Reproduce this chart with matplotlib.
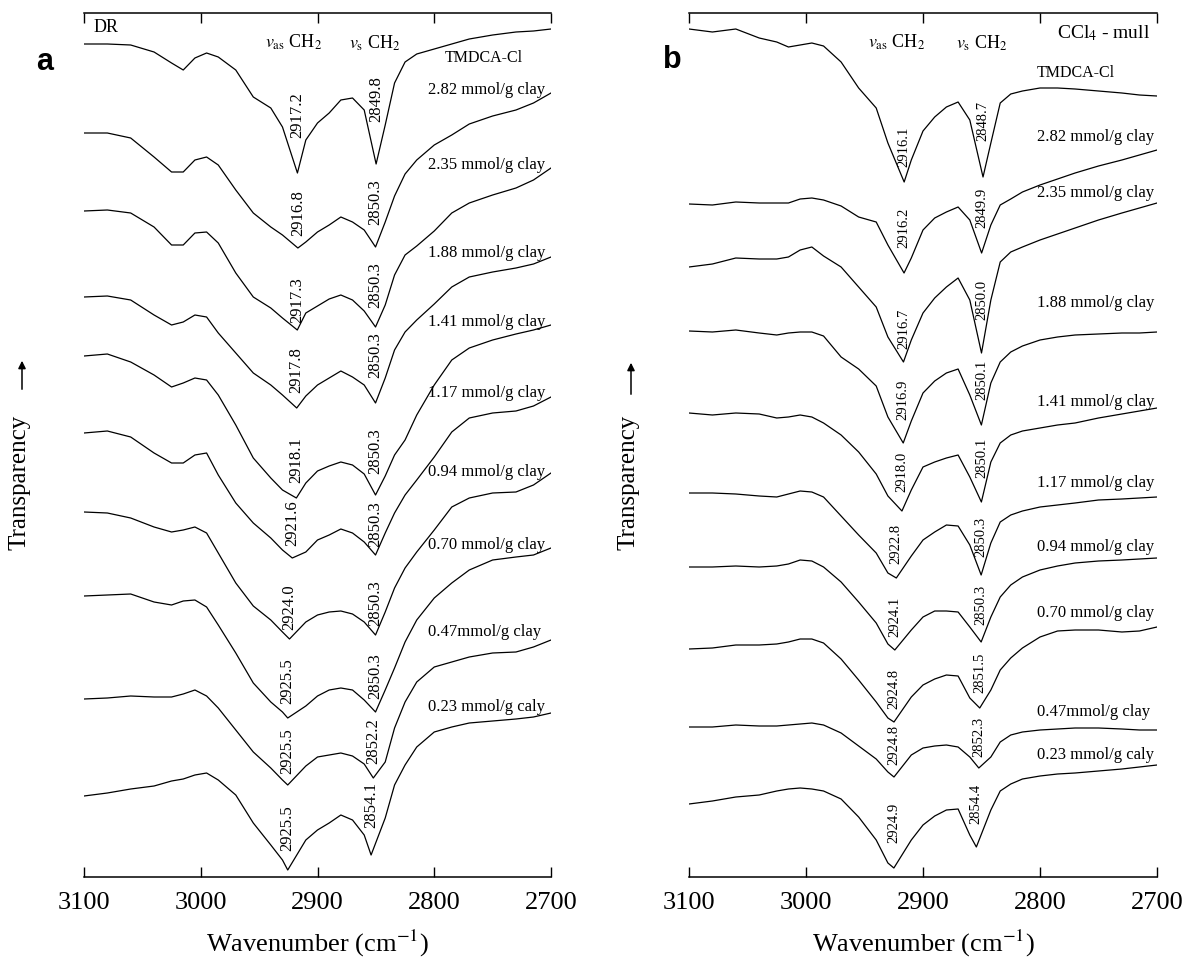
import numpy as np
import matplotlib
matplotlib.use("Agg")
import matplotlib.pyplot as plt

plt.rcParams['font.family'] = ['Liberation Serif', 'DejaVu Serif']
plt.rcParams['mathtext.fontset'] = 'stix'

W, H = 1189, 960

# wavenumber grid (cm-1) at which the curves were read
wn = [3100, 3080, 3060, 3040, 3025, 3015, 3005, 2995, 2985, 2970, 2955, 2940, 2930,
      2910, 2900, 2890, 2880, 2870, 2860, 2842, 2834, 2825, 2815, 2800, 2785, 2770,
      2750, 2730, 2715, 2700]

labels = ['TMDCA-Cl', '2.82 mmol/g clay', '2.35 mmol/g clay', '1.88 mmol/g clay',
          '1.41 mmol/g clay', '1.17 mmol/g clay', '0.94 mmol/g clay', '0.70 mmol/g clay',
          '0.47mmol/g clay', '0.23 mmol/g caly']

# offset transparency (arb. units, larger = lower on the plot), panel a: DR
dr = [
    [44, 44, 45, 52, 63, 70, 58, 53, 57, 70, 97, 108, 127, 140, 123, 113, 100, 98, 110, 125, 83, 62, 54, 49, 44, 39, 35, 32, 31, 29],
    [133, 133, 138, 157, 172, 172, 160, 157, 165, 190, 213, 227, 235, 242, 232, 225, 217, 222, 230, 222, 196, 174, 160, 145, 135, 124, 116, 110, 103, 93],
    [211, 210, 213, 227, 245, 245, 233, 232, 243, 273, 297, 308, 318, 313, 306, 299, 295, 300, 311, 305, 275, 255, 246, 231, 213, 203, 195, 188, 180, 168],
    [297, 296, 300, 315, 325, 322, 315, 317, 333, 353, 373, 385, 395, 396, 385, 378, 371, 377, 385, 378, 350, 332, 320, 304, 287, 277, 272, 268, 264, 257],
    [356, 354, 362, 375, 387, 383, 378, 380, 395, 425, 458, 478, 490, 483, 471, 466, 462, 465, 474, 476, 455, 440, 415, 385, 360, 348, 340, 334, 330, 325],
    [433, 431, 437, 453, 463, 463, 455, 453, 475, 503, 523, 538, 550, 552, 540, 535, 529, 533, 542, 533, 513, 495, 480, 457, 432, 418, 413, 411, 406, 397],
    [512, 513, 518, 527, 532, 530, 527, 533, 553, 583, 606, 620, 632, 622, 615, 612, 611, 614, 622, 612, 588, 568, 552, 530, 507, 498, 493, 492, 485, 473],
    [596, 595, 594, 602, 605, 601, 600, 607, 625, 653, 683, 702, 712, 706, 696, 690, 688, 690, 700, 690, 668, 642, 620, 598, 583, 570, 560, 557, 555, 548],
    [699, 698, 696, 697, 697, 694, 690, 696, 708, 730, 752, 768, 780, 766, 757, 755, 753, 756, 764, 762, 728, 702, 682, 667, 662, 657, 653, 652, 647, 640],
    [796, 793, 789, 786, 781, 779, 775, 773, 780, 795, 823, 845, 860, 840, 830, 823, 815, 820, 835, 818, 785, 765, 747, 732, 727, 723, 721, 719, 717, 713],
]
dr_as_pos = [2917.2, 2916.8, 2917.3, 2917.8, 2918.1, 2921.6, 2924.0, 2925.5, 2925.5, 2925.5]
dr_s_pos = [2849.8, 2850.3, 2850.3, 2850.3, 2850.3, 2850.3, 2850.3, 2850.3, 2852.2, 2854.1]
dr_as_min = [173, 248, 330, 408, 498, 558, 639, 718, 785, 870]
dr_s_min = [164, 247, 327, 403, 495, 555, 635, 712, 778, 855]

# panel b: CCl4 mull
cc = [
    [29, 32, 29, 38, 42, 47, 45, 43, 46, 62, 88, 108, 143, 160, 131, 117, 107, 102, 120, 143, 103, 94, 91, 88, 88, 89, 91, 93, 95, 96],
    [204, 205, 202, 203, 203, 203, 199, 198, 200, 206, 217, 222, 245, 258, 230, 218, 212, 207, 220, 225, 205, 199, 192, 185, 179, 173, 166, 160, 155, 150],
    [267, 264, 258, 259, 259, 257, 250, 247, 256, 267, 287, 307, 337, 340, 313, 298, 287, 278, 300, 300, 262, 252, 247, 240, 234, 228, 220, 213, 208, 203],
    [331, 332, 330, 333, 335, 333, 332, 332, 336, 357, 369, 386, 417, 421, 393, 381, 373, 369, 395, 383, 362, 352, 346, 340, 337, 335, 334, 333, 333, 332],
    [413, 415, 413, 414, 418, 417, 415, 417, 423, 435, 452, 474, 496, 490, 467, 462, 458, 455, 477, 462, 443, 435, 431, 428, 425, 423, 418, 414, 411, 408],
    [493, 493, 494, 496, 497, 494, 491, 492, 497, 516, 535, 553, 573, 556, 540, 532, 525, 526, 545, 543, 522, 515, 511, 507, 505, 503, 500, 499, 498, 497],
    [567, 567, 566, 567, 566, 564, 560, 561, 567, 582, 602, 623, 644, 630, 617, 611, 611, 612, 627, 617, 597, 585, 577, 570, 566, 563, 561, 560, 559, 558],
    [649, 648, 645, 645, 644, 642, 639, 639, 643, 659, 680, 702, 718, 697, 685, 679, 675, 676, 698, 690, 670, 658, 648, 637, 631, 630, 630, 632, 631, 627],
    [727, 727, 725, 726, 726, 725, 724, 723, 725, 733, 746, 759, 772, 755, 748, 746, 745, 747, 757, 757, 742, 735, 732, 730, 729, 728, 728, 729, 730, 730],
    [804, 801, 797, 795, 791, 789, 788, 789, 791, 799, 817, 840, 863, 840, 825, 816, 810, 809, 835, 810, 791, 784, 779, 776, 774, 773, 771, 769, 767, 765],
]
cc_as_pos = [2916.1, 2916.2, 2916.7, 2916.9, 2918.0, 2922.8, 2924.1, 2924.8, 2924.8, 2924.9]
cc_s_pos = [2848.7, 2849.9, 2850.0, 2850.1, 2850.1, 2850.3, 2850.3, 2851.5, 2852.3, 2854.4]
cc_as_min = [182, 273, 362, 443, 511, 578, 650, 722, 777, 868]
cc_s_min = [177, 253, 353, 425, 502, 575, 642, 708, 768, 847]

# --- layout (label heights, in the same vertical units) ---
dr_as_lab_y = [115, 213, 300, 370, 460, 523, 607, 681, 751, 828]
dr_s_lab_y = [99, 202, 285, 355, 451, 524, 603, 676, 741, 805]
dr_conc_y = [58, 90, 165, 253, 322, 393, 472, 545, 632, 707]
cc_as_lab_y = [147, 228, 329, 400, 472, 544, 617, 689, 745, 823]
cc_s_lab_y = [121, 208, 300, 380, 458, 537, 605, 673, 737, 804]
cc_conc_y = [73, 137, 193, 303, 402, 483, 547, 613, 712, 755]


def spectrum(vals, as_pos, as_min, s_pos, s_min):
    x = np.array(list(wn) + [as_pos, s_pos], dtype=float)
    y = np.array(list(vals) + [as_min, s_min], dtype=float)
    o = np.argsort(-x)
    return x[o], y[o]


def setup(ax):
    ax.set_xlim(3100, 2700)
    ax.set_ylim(877, 13)
    ax.spines['left'].set_visible(False)
    ax.spines['right'].set_visible(False)
    ax.spines['top'].set_linewidth(1.1)
    ax.spines['bottom'].set_linewidth(1.1)
    ax.set_xticks([3100, 3000, 2900, 2800, 2700])
    ax.tick_params(axis='x', direction='in', length=7.5, width=1.0, top=True,
                   labelsize=19, pad=11)
    ax.set_yticks([])


fig = plt.figure(figsize=(W / 100, H / 100), dpi=100)
ax_a = fig.add_axes([84 / W, 1 - 877 / H, (551 - 84) / W, 864 / H])
ax_b = fig.add_axes([689 / W, 1 - 877 / H, (1157 - 689) / W, 864 / H])

panels = [
    (ax_a, dr, dr_as_pos, dr_as_min, dr_s_pos, dr_s_min, dr_as_lab_y, dr_s_lab_y, dr_conc_y, 12, 2805.4, 2757.4),
    (ax_b, cc, cc_as_pos, cc_as_min, cc_s_pos, cc_s_min, cc_as_lab_y, cc_s_lab_y, cc_conc_y, 10.5, 2802.6, 2769.2),
]

for ax, curves, asp, asm, sp, sm, asy, sy, cy, pfs, cx, tx in panels:
    setup(ax)
    for i in range(len(curves)):
        x, y = spectrum(curves[i], asp[i], asm[i], sp[i], sm[i])
        ax.plot(x, y, color='black', lw=0.9)
        ax.text(asp[i], asy[i], '%.1f' % asp[i], rotation=90, ha='center', va='center', fontsize=pfs)
        ax.text(sp[i], sy[i], '%.1f' % sp[i], rotation=90, ha='center', va='center', fontsize=pfs)
    ax.text(tx, cy[0], labels[0], ha='center', va='center', fontsize=11.5)
    for lab, yy in zip(labels[1:], cy[1:]):
        ax.text(cx, yy, lab, ha='left', va='center', fontsize=12)

ax_a.text(3092, 28, 'DR', ha='left', va='center', fontsize=13)
ax_a.text(2920.1, 42, r'$v_{\rm as}$ CH$_2$', ha='center', va='center', fontsize=13)
ax_a.text(2850.8, 43, r'$v_{\rm s}$ CH$_2$', ha='center', va='center', fontsize=13)
ax_b.text(2922.2, 42, r'$v_{\rm as}$ CH$_2$', ha='center', va='center', fontsize=13)
ax_b.text(2849.6, 43, r'$v_{\rm s}$ CH$_2$', ha='center', va='center', fontsize=13)
ax_b.text(2706, 33, r'CCl$_4$ - mull', ha='right', va='center', fontsize=14)

for xc in [(84 + 551) / 2, (689 + 1157) / 2]:
    fig.text(xc / W, 1 - 943 / H, 'Wavenumber (cm$^{-1}$)', ha='center', va='center', fontsize=19)

for xt, xa, ya0, ya1 in [(20, 22, 392, 358), (628, 631, 397, 360)]:
    fig.text(xt / W, 1 - 482 / H, 'Transparency', rotation=90, ha='center', va='center', fontsize=18)
    fig.add_artist(matplotlib.patches.FancyArrowPatch(
        (xa / W, 1 - ya0 / H), (xa / W, 1 - ya1 / H), transform=fig.transFigure,
        arrowstyle='-|>', mutation_scale=11, lw=1.1, color='black'))

fig.text(45 / W, 1 - 62 / H, 'a', ha='center', va='center', fontsize=22,
         fontweight='bold', family=['Liberation Sans', 'DejaVu Sans'])
fig.text(672 / W, 1 - 60 / H, 'b', ha='center', va='center', fontsize=22,
         fontweight='bold', family=['Liberation Sans', 'DejaVu Sans'])

fig.savefig('out.png', dpi=100)
